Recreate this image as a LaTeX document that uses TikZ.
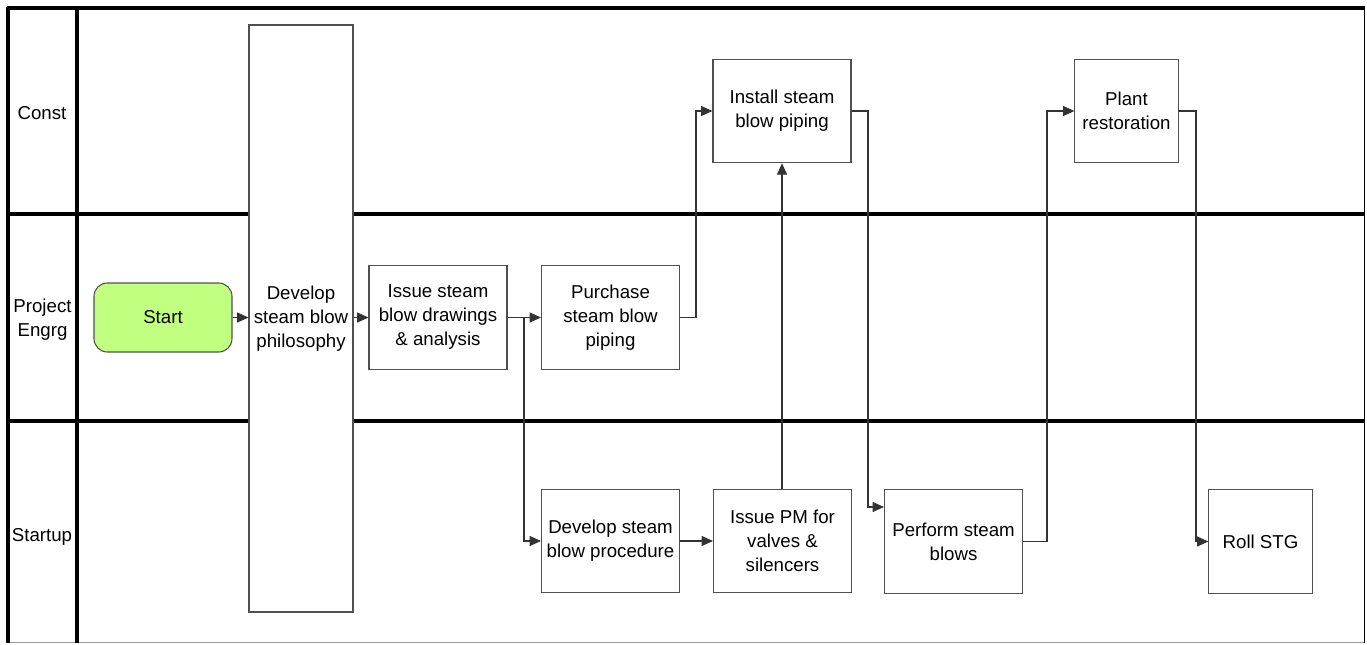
\documentclass[tikz,border=0pt]{standalone}
\usepackage{fontspec}
\setmainfont{Liberation Sans}
\usetikzlibrary{arrows.meta,calc}
\definecolor{startgreen}{RGB}{192,255,128}
\definecolor{boxline}{RGB}{80,80,80}
\begin{document}
\begin{tikzpicture}[x=0.75pt,y=-0.75pt,
  font=\fontsize{14}{18}\selectfont,
  lane/.style={line width=2.4pt,black},
  box/.style={draw=boxline,line width=0.8pt,fill=white,align=center,inner sep=2pt},
  wbox/.style={box,minimum width=103.5pt,minimum height=77.6pt},
  nbox/.style={box,minimum width=77.4pt,minimum height=77.6pt},
  conn/.style={draw=black!80,line width=0.8pt,-{Triangle[length=8.5pt,width=7.5pt]}},
  lbl/.style={align=center,inner sep=0pt}]
\useasboundingbox (0,0) rectangle (1367,644);
% frame and lanes
\draw[black!40,line width=1pt] (8,642.5) -- (1364.5,642.5);
\draw[black,line width=0.9pt] (1364.5,8) -- (1364.5,642.5);
\draw[lane] (8,214) -- (1365,214);
\draw[lane] (8,421) -- (1365,421);
\draw[lane] (77,8) -- (77,643);
\draw[lane] (6.8,8) -- (1365,8);
\draw[lane] (8,6.8) -- (8,643);
% lane labels
\node[lbl] (lc) at (42,113) {Const};
\node[lbl] (lp) at (42.5,320) {Project\\Engrg};
\node[lbl] (ls) at (42,537) {Startup};
% nodes
\node[box,fill=startgreen,rounded corners=10pt,minimum width=103.5pt,minimum height=51.75pt] (start) at (163,317.5) {Start};
\node[box,minimum width=78pt,minimum height=440.25pt] (phil) at (301,318.5) {Develop\\steam blow\\philosophy};
\node[wbox] (issue) at (438,317.5) {Issue steam\\blow drawings\\\& analysis};
\node[wbox] (purch) at (610.5,317.5) {Purchase\\steam blow\\piping};
\node[wbox] (inst) at (782,111) {Install steam\\blow piping};
\node[nbox] (plant) at (1126.5,111) {Plant\\restoration};
\node[wbox] (devp) at (610.5,541) {Develop steam\\blow procedure};
\node[wbox] (pm) at (782.5,541) {Issue PM for\\valves \&\\silencers};
\node[wbox] (perf) at (953.5,541.5) {Perform steam\\blows};
\node[nbox] (roll) at (1260.5,541.5) {Roll STG};
% junction coordinates
\coordinate (j1) at (524,0);
\coordinate (j2) at (696,0);
\coordinate (j3) at (868,507);
\coordinate (j4) at (1047,0);
\coordinate (j5) at (1196,0);
% connectors
\draw[conn] (start.east) -- (start.east -| phil.west);
\draw[conn] (issue.west -| phil.east) -- (issue.west);
\draw[conn] (issue.east) -- (purch.west);
\draw[conn] (j1 |- issue.east) -- (j1 |- devp.west) -- (devp.west);
\draw[conn] (purch.east) -- (j2 |- purch.east) -- (j2 |- inst.west) -- (inst.west);
\draw[conn] (devp.east) -- (devp.east -| pm.west);
\draw[conn] (pm.north -| inst.south) -- (inst.south);
\draw[conn] (inst.east) -| (j3) -- (j3 -| perf.west);
\draw[conn] (perf.east) -- (j4 |- perf.east) -- (j4 |- plant.west) -- (plant.west);
\draw[conn] (plant.east) -- (j5 |- plant.east) -- (j5 |- roll.west) -- (roll.west);
\end{tikzpicture}
\end{document}
